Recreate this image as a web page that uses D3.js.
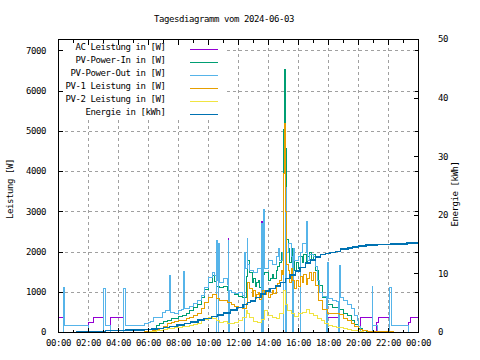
<!DOCTYPE html>
<html><head><meta charset="utf-8">
<script src="https://cdn.jsdelivr.net/npm/d3@7"></script>
<style>
html,body{margin:0;padding:0;background:#fff;}
svg{display:block;}
text{font-family:"DejaVu Sans Mono",monospace;font-size:9px;letter-spacing:-0.42px;fill:#000;}
</style></head><body>
<svg id="c" width="480" height="360"></svg>
<script>
// ---------- data ----------
const title = "Tagesdiagramm vom 2024-06-03";
const yLabel = "Leistung [W]";
const y2Label = "Energie [kWh]";
const seriesNames = ["AC Leistung in [W]","PV-Power-In in [W]","PV-Power-Out in [W]","PV-1 Leistung in [W]","PV-2 Leistung in [W]","Energie in [kWh]"];
const seriesColors = ["#9400d3","#009e73","#56b4e9","#e69f00","#f0e442","#0072b2"];

const xMajorTicks = [0,2,4,6,8,10,12,14,16,18,20,22,24];
const xMinorTicks = [1,3,5,7,9,11,13,15,17,19,21,23];
const xTickLabels = ["00:00","02:00","04:00","06:00","08:00","10:00","12:00","14:00","16:00","18:00","20:00","22:00","00:00"];
const yTicks = [0,1000,2000,3000,4000,5000,6000,7000];
const y2Ticks = [0,10,20,30,40,50];

// [hour, W]
const acPower = [[0,375],[0.31,0],[2.02,250],[2.33,375],[2.98,0],[3.47,375],[4.31,0],[11.33,2330],[11.36,0],[13.55,2760],[13.6,0],[15.13,3660],[15.2,0],[17.9,375],[18.67,0],[20.1,375],[20.9,0],[21.2,250],[21.3,375],[22.07,0],[23.33,250],[23.45,375],[24,375]];

const pvIn = [[0,0],[6.25,60],[6.5,170],[6.75,220],[7.0,280],[7.25,300],[7.5,340],[7.75,360],[8.0,400],[8.25,430],[8.5,480],[8.75,540],[9.0,610],[9.25,700],[9.5,880],[9.75,1060],[10.0,1250],[10.25,1420],[10.4,1280],[10.5,1150],[10.75,1120],[11.0,1150],[11.25,1050],[11.5,1000],[11.75,940],[12.0,900],[12.25,880],[12.5,1380],[12.6,1780],[12.75,1500],[12.9,1250],[13.0,1350],[13.1,1150],[13.2,1250],[13.3,1300],[13.4,1120],[13.5,1200],[13.6,1450],[13.75,1480],[13.85,1500],[14.0,1300],[14.1,1350],[14.25,1450],[14.35,1350],[14.5,1550],[14.6,1650],[14.75,1750],[14.85,2000],[14.9,1900],[15.0,5040],[15.07,6540],[15.13,4580],[15.2,2300],[15.3,2100],[15.4,1750],[15.5,2100],[15.6,1800],[15.75,1550],[15.85,1750],[16.0,1600],[16.1,1880],[16.25,1750],[16.35,1950],[16.5,1750],[16.6,1900],[16.75,2000],[16.85,1800],[17.0,1950],[17.13,1540],[17.33,1170],[17.6,880],[17.9,700],[18.25,620],[18.5,620],[18.75,580],[19.0,480],[19.25,420],[19.5,300],[19.75,200],[20.0,90],[20.25,40],[20.5,20],[21.0,0],[24,0]];

const pvOut = [[0,0],[0.31,1120],[0.42,185],[2.02,0],[2.98,1100],[3.1,185],[3.47,0],[4.31,1100],[4.45,185],[5.62,185],[5.75,225],[5.98,250],[6.13,275],[6.35,375],[6.85,375],[6.9,500],[7.1,540],[7.4,1420],[7.47,500],[7.75,480],[8.0,540],[8.2,580],[8.35,1525],[8.42,600],[8.75,640],[9.0,710],[9.25,790],[9.5,920],[9.75,1125],[10.0,1375],[10.25,1500],[10.4,1420],[10.53,0],[10.56,2275],[10.6,1300],[10.64,0],[10.67,2200],[10.72,1250],[11.0,1340],[11.25,1200],[11.3,0],[11.33,2275],[11.36,0],[11.38,1050],[11.5,1000],[11.75,960],[12.0,1000],[12.25,920],[12.4,0],[12.43,2000],[12.47,1600],[12.58,2335],[12.63,1700],[12.75,1550],[13.0,1500],[13.25,1600],[13.5,1550],[13.52,0],[13.55,2700],[13.6,0],[13.65,3060],[13.7,1600],[14.0,1800],[14.25,1700],[14.5,1900],[14.67,2085],[14.75,1800],[14.95,2000],[15.0,0],[15.13,3600],[15.2,0],[15.23,2000],[15.35,2200],[15.5,1900],[15.6,0],[15.65,2100],[15.75,1800],[16.0,1900],[16.1,0],[16.15,2000],[16.25,2200],[16.5,2000],[16.55,2750],[16.6,1800],[16.75,1950],[17.0,1900],[17.13,1650],[17.25,1300],[17.4,1000],[17.6,900],[17.85,880],[17.88,0],[17.9,1750],[17.97,850],[18.25,800],[18.5,780],[18.67,0],[18.7,1670],[18.82,870],[19.0,800],[19.25,700],[19.5,600],[19.75,420],[19.9,300],[20.0,150],[20.1,0],[20.9,1140],[20.95,185],[21.27,0],[22.07,1110],[22.2,170],[23.33,0],[24,0]];

const pv1 = [[0,0],[4.6,10],[5.7,20],[6.25,50],[6.5,80],[6.75,110],[7.0,160],[7.25,220],[7.5,250],[7.75,270],[8.0,290],[8.25,310],[8.5,340],[8.75,370],[9.0,420],[9.25,480],[9.5,600],[9.75,740],[10.0,880],[10.25,940],[10.5,840],[10.75,800],[11.0,790],[11.25,750],[11.5,690],[11.75,650],[12.0,620],[12.25,590],[12.5,720],[12.6,1250],[12.75,1100],[12.9,900],[13.0,1050],[13.1,850],[13.2,950],[13.3,1000],[13.4,820],[13.5,880],[13.6,1040],[13.75,950],[13.85,1050],[14.0,880],[14.1,950],[14.25,1050],[14.35,960],[14.5,1150],[14.6,1220],[14.75,1300],[14.85,1550],[14.9,1450],[15.0,3950],[15.07,5200],[15.13,3000],[15.2,1700],[15.3,1550],[15.4,1250],[15.5,1600],[15.6,1300],[15.75,1100],[15.85,1290],[16.0,1150],[16.1,1400],[16.25,1250],[16.35,1450],[16.5,1200],[16.6,1350],[16.75,1500],[16.85,1300],[17.0,1500],[17.13,1170],[17.33,790],[17.6,580],[17.9,480],[18.25,470],[18.5,460],[18.75,440],[19.0,360],[19.25,300],[19.5,230],[19.75,160],[20.0,80],[20.25,40],[20.6,30],[21.5,20],[22.3,0],[24,0]];

const pv2 = [[0,0],[6.0,20],[6.25,30],[6.5,50],[6.75,60],[7.0,80],[7.25,90],[7.5,100],[7.75,120],[8.0,130],[8.25,140],[8.5,160],[8.75,180],[9.0,190],[9.25,220],[9.5,290],[9.75,330],[10.0,375],[10.25,340],[10.5,300],[10.75,250],[11.0,280],[11.25,230],[11.5,215],[11.75,260],[12.0,300],[12.25,380],[12.5,540],[12.6,460],[12.75,380],[13.0,280],[13.25,250],[13.5,320],[13.75,540],[13.9,420],[14.25,380],[14.5,360],[14.75,460],[15.0,1040],[15.1,700],[15.25,540],[15.5,480],[15.75,400],[16.0,460],[16.25,500],[16.5,560],[16.75,480],[17.0,420],[17.25,360],[17.5,290],[17.75,230],[18.0,180],[18.25,150],[18.5,130],[18.75,120],[19.0,110],[19.25,80],[19.5,60],[19.75,40],[20.0,20],[20.3,0],[24,0]];

// [hour, kWh]
const energy = [[0.35,0],[1.24,0.12],[3.13,0.34],[4.47,0.46],[5.69,0.52],[6.2,0.6],[6.6,0.7],[7.0,0.85],[7.4,1.0],[7.9,1.3],[8.4,1.55],[8.8,1.8],[9.3,2.1],[9.7,2.4],[10.2,2.7],[10.6,2.95],[11.0,3.35],[11.47,3.8],[11.9,4.3],[12.3,4.8],[12.6,5.1],[12.8,5.4],[13.13,6.0],[13.5,6.6],[13.8,7.07],[14.1,7.5],[14.47,7.9],[14.8,8.5],[15.13,9.2],[15.45,9.8],[15.8,10.45],[16.1,11.1],[16.47,11.9],[16.8,12.4],[17.13,12.9],[17.47,13.3],[17.8,13.45],[18.1,13.65],[18.47,13.85],[18.8,14.2],[19.3,14.4],[19.6,14.6],[20.0,14.75],[20.5,14.9],[21.25,15.0],[22.13,15.15],[23.25,15.3],[24,15.3]];

// ---------- chart ----------
const X0 = 58.5, X1 = 418.5, Y0 = 39.5, Y1 = 332.5;
const svg = d3.select("#c");
const x = d3.scaleLinear().domain([0,24]).range([X0,X1]);
const y = d3.scaleLinear().domain([0,7283]).range([Y1,Y0]);
const y2 = d3.scaleLinear().domain([0,50]).range([Y1,Y0]);

// title
svg.append("text").attr("x",224).attr("y",21.6).attr("text-anchor","middle").text(title);

// grid
const grid = svg.append("g").attr("stroke","#a0a0a0").attr("stroke-width",1).attr("stroke-dasharray","3,3").attr("shape-rendering","crispEdges");
grid.selectAll("line.v").data(xMajorTicks.slice(1,-1)).join("line").attr("class","v")
  .attr("x1",d=>x(d)).attr("x2",d=>x(d)).attr("y1",Y1).attr("y2",Y0);
grid.selectAll("line.h").data(yTicks.slice(1)).join("line").attr("class","h")
  .attr("x1",X0).attr("x2",X1).attr("y1",d=>y(d)).attr("y2",d=>y(d));

// legend background (opaque key)
svg.append("rect").attr("x",59).attr("y",40).attr("width",166).attr("height",80).attr("fill","#fff");

// data lines
const lineW = d3.line().x(d=>x(d[0])).y(d=>y(d[1])).curve(d3.curveStepAfter);
const lineE = d3.line().x(d=>x(d[0])).y(d=>y2(d[1])).curve(d3.curveStepAfter);
const seriesData = [acPower, pvIn, pvOut, pv1, pv2];
const plot = svg.append("g").attr("fill","none").attr("shape-rendering","crispEdges");
seriesData.forEach((s,i)=>{
  plot.append("path").attr("d",lineW(s)).attr("stroke",seriesColors[i]).attr("stroke-width",1);
});
plot.append("path").attr("d",lineE(energy)).attr("stroke",seriesColors[5]).attr("stroke-width",1.6);

// legend
const lg = svg.append("g");
seriesNames.forEach((n,i)=>{
  const cy = 47 + i*13;
  lg.append("text").attr("x",165.5).attr("y",cy+3.3).attr("text-anchor","end").text(n);
  lg.append("line").attr("x1",190).attr("x2",218).attr("y1",cy+2.5).attr("y2",cy+2.5)
    .attr("stroke",seriesColors[i]).attr("stroke-width",1.2).attr("shape-rendering","crispEdges");
});

// axes
function styleAxis(g){
  g.select(".domain").remove();
  g.selectAll("line").attr("shape-rendering","crispEdges").attr("stroke","#000");
  g.attr("font-family",null).attr("font-size",null);
}
svg.append("g").attr("transform",`translate(0,${Y1})`)
  .call(d3.axisBottom(x).tickValues(xMajorTicks).tickSize(-5).tickPadding(7.5).offset(0)
    .tickFormat((d,i)=>xTickLabels[i]))
  .call(styleAxis);
svg.append("g").attr("transform",`translate(0,${Y1})`)
  .call(d3.axisBottom(x).tickValues(xMinorTicks).tickSize(-3).tickFormat("").offset(0)).call(styleAxis);
svg.append("g").attr("transform",`translate(0,${Y0})`)
  .call(d3.axisTop(x).tickValues(xMajorTicks).tickSize(-5).tickFormat("").offset(0)).call(styleAxis);
svg.append("g").attr("transform",`translate(0,${Y0})`)
  .call(d3.axisTop(x).tickValues(xMinorTicks).tickSize(-3).tickFormat("").offset(0)).call(styleAxis);
svg.append("g").attr("transform",`translate(${X0},0)`)
  .call(d3.axisLeft(y).tickValues(yTicks).tickSize(-4).tickPadding(12.5).offset(0).tickFormat(d3.format("d")))
  .call(styleAxis);
svg.append("g").attr("transform",`translate(${X1},0)`)
  .call(d3.axisRight(y).tickValues(yTicks).tickSize(-4).tickFormat("").offset(0)).call(styleAxis);
svg.append("g").attr("transform",`translate(${X1},0)`)
  .call(d3.axisRight(y2).tickValues(y2Ticks).tickSize(-5).tickPadding(19.5).offset(0).tickFormat(d3.format("d")))
  .call(styleAxis);
svg.selectAll(".tick text").attr("fill","#000");

// border
svg.append("rect").attr("x",X0).attr("y",Y0).attr("width",X1-X0).attr("height",Y1-Y0)
  .attr("fill","none").attr("stroke","#000").attr("stroke-width",1).attr("shape-rendering","crispEdges");

// axis titles
svg.append("text").attr("transform","translate(13.3,189) rotate(-90)").attr("text-anchor","middle").text(yLabel);
svg.append("text").attr("transform","translate(458.3,194) rotate(-90)").attr("text-anchor","middle").text(y2Label);
</script>
</body></html>
